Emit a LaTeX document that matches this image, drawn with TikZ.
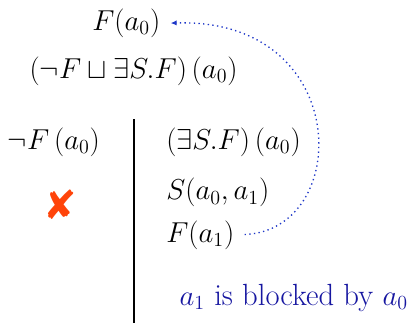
\documentclass[tikz,border=0pt]{standalone}
\usepackage{amsmath,amssymb}
\usepackage{fontspec}
\newfontfamily\dejavu{DejaVu Sans}
\usetikzlibrary{arrows.meta,positioning}
\definecolor{blockblue}{RGB}{22,22,160}
\definecolor{linkblue}{RGB}{30,55,200}
\definecolor{clashred}{RGB}{255,68,10}
\tikzset{
  fml/.style={font=\fontsize{17.9}{21}\selectfont, inner sep=0pt, anchor=west},
  note/.style={font=\fontsize{18.4}{22}\selectfont, inner sep=0pt, anchor=base west, text=blockblue},
  clash/.style={font=\dejavu\fontsize{24}{24}\selectfont, inner sep=0pt, text=clashred},
  branch/.style={black, line width=1.6pt},
  blocklink/.style={-{Latex[length=3.6pt,width=3.2pt]}, linkblue, thick, dotted,
                    shorten <=6pt, shorten >=6pt},
}

\begin{document}
\begin{tikzpicture}
    \useasboundingbox (0,0) rectangle (8.794,6.854);
    % root of the tableau
    \node[fml] (fa0) at (1.94,6.36) {$F(a_0)$};
    \node[fml] (disj) at (0.62,5.35) {$(\neg F \sqcup \exists S.F)\,(a_0)$};
    % left branch
    \node[fml] (negf) at (0.16,3.85) {$\neg F\,(a_0)$};
    \node[clash] (cross) at (1.265,2.53) {✘};
    % right branch
    \node[fml] (exf) at (3.50,3.86) {$(\exists S.F)\,(a_0)$};
    \node[fml] (sa) at (3.50,2.79) {$S(a_0,a_1)$};
    \node[fml] (fa1) at (3.50,1.90) {$F(a_1)$};
    \node[note] (blocked) at (3.78,0.42) {$a_1$ is blocked by $a_0$};
    % split
    \coordinate (splittop) at (2.826,4.34);
    \coordinate (splitbot) at (2.826,0.04);
    \draw[branch] (splittop) -- (splitbot);
    % blocking
    \draw[blocklink] (fa1.east) .. controls +(2.5,0.1) and +(4.05,0.13) .. (fa0.east);
\end{tikzpicture}
\end{document}
